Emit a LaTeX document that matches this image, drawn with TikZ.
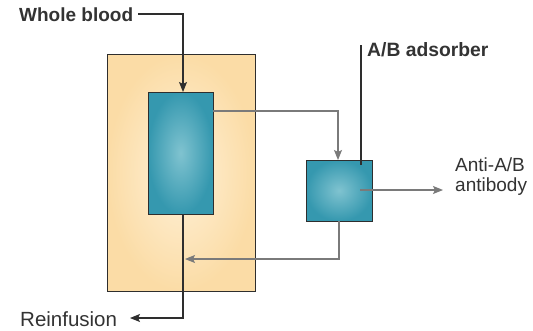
\documentclass[tikz,border=0pt]{standalone}
\usepackage{fontspec}
\setmainfont{Liberation Sans}
\usetikzlibrary{arrows.meta}
\definecolor{peachin}{HTML}{FFF1D8}
\definecolor{peachout}{HTML}{FBDCA6}
\definecolor{tealin}{HTML}{80C3D0}
\definecolor{tealout}{HTML}{3598AF}
\definecolor{darkline}{HTML}{2E2E2E}
\definecolor{grayline}{HTML}{7A7A7A}
\definecolor{txt}{HTML}{333333}
\tikzset{
  outerbox/.style={draw=darkline, line width=1pt, inner color=peachin, outer color=peachout, minimum width=148pt, minimum height=237pt, inner sep=0pt},
  tealbox/.style={draw=darkline, line width=1pt, inner color=tealin, outer color=tealout, inner sep=0pt},
  darkarrow/.style={draw=darkline, line width=1.1pt, -{Stealth[length=10pt,width=8pt,inset=2pt]}},
  grayarrow/.style={draw=grayline, line width=1.1pt, -{Stealth[length=10pt,width=8pt,inset=2pt]}},
  darkplain/.style={draw=darkline, line width=1.1pt},
  lbl/.style={inner sep=0pt, anchor=base west, text=txt},
}
\begin{document}
\begin{tikzpicture}[x=1pt,y=-1pt]
\useasboundingbox[fill=white] (0,0) rectangle (533,330);
% boxes
\node[outerbox] (outer) at (181,172.5) {};
\node[tealbox, minimum width=65pt, minimum height=122pt] (inner) at (180.5,153) {};
\node[tealbox, minimum width=66pt, minimum height=61pt] (ads) at (339,190.5) {};
% labels
\node[lbl, font=\fontsize{19}{22}\selectfont\bfseries] (wb) at (19,21) {Whole blood};
\node[lbl, font=\fontsize{20.5}{24}\selectfont] (re) at (20,326) {Reinfusion};
\node[lbl, font=\fontsize{19.3}{22}\selectfont\bfseries] (adl) at (367,56) {A/B adsorber};
\node[lbl, font=\fontsize{19}{19.5}\selectfont, align=left] (anti) at (455,191) {Anti-A/B\\antibody};
% connector points
\coordinate (wbstart) at (138,14);
\coordinate (wbcorner) at (183,14);
\coordinate (intop) at (183,92);
\coordinate (inright) at (213,111);
\coordinate (adstop) at (338,160);
\coordinate (adlineTop) at (361,45);
\coordinate (adlineEnd) at (361,165);
\coordinate (antistart) at (360,190);
\coordinate (antiend) at (443,190);
\coordinate (adsbottom) at (339,221);
\coordinate (retend) at (185,259);
\coordinate (inbottom) at (183,214);
\coordinate (reend) at (130,318);
% connectors
\draw[darkarrow] (wbstart) -- (wbcorner) -- (intop);
\draw[grayarrow] (inright) -| (adstop);
\draw[darkplain] (adlineTop) -- (adlineEnd);
\draw[grayarrow] (antistart) -- (antiend);
\draw[grayarrow] (adsbottom) |- (retend);
\draw[darkarrow] (inbottom) |- (reend);
\end{tikzpicture}
\end{document}
